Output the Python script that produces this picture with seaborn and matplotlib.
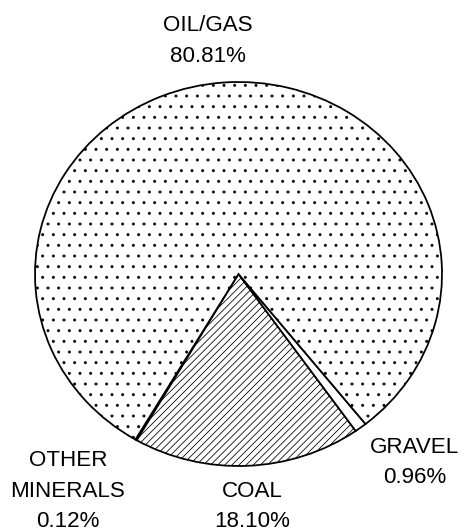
import matplotlib
matplotlib.use("Agg")
import matplotlib.pyplot as plt
import seaborn as sns

# shares of the total (percent), counter-clockwise from the start angle
categories = ["OTHER\nMINERALS", "COAL", "GRAVEL", "OIL/GAS"]
shares = [0.12, 18.10, 0.96, 80.81]
hatches = ["", "//////", "", ".."]

# label anchor points (data units, pie radius = 1)
label_pos = [(-0.838, -1.132), (0.066, -1.21), (0.867, -0.982), (-0.150, 1.212)]

sns.set_theme(style="white")
plt.rcParams["font.family"] = ["Liberation Sans", "DejaVu Sans"]
plt.rcParams["hatch.linewidth"] = 0.45

DPI = 128
fig = plt.figure(figsize=(463 / DPI, 532 / DPI), dpi=DPI)
ax = fig.add_axes([35 / 463, 66 / 532, 407 / 463, 384 / 532])

wedges, _ = ax.pie(shares, startangle=239.57, counterclock=True,
                   colors=["white"] * len(shares),
                   wedgeprops=dict(edgecolor="black", linewidth=1.0))
for w, h in zip(wedges, hatches):
    w.set_hatch(h)

ax.set_aspect("auto")
ax.set_xlim(-1, 1)
ax.set_ylim(-1, 1)
ax.axis("off")

for name, share, (x, y) in zip(categories, shares, label_pos):
    ax.text(x, y, f"{name}\n{share:.2f}%", ha="center", va="center",
            fontsize=12.6, linespacing=1.6, color="black")

fig.savefig("out.png", dpi=DPI, facecolor="white")
